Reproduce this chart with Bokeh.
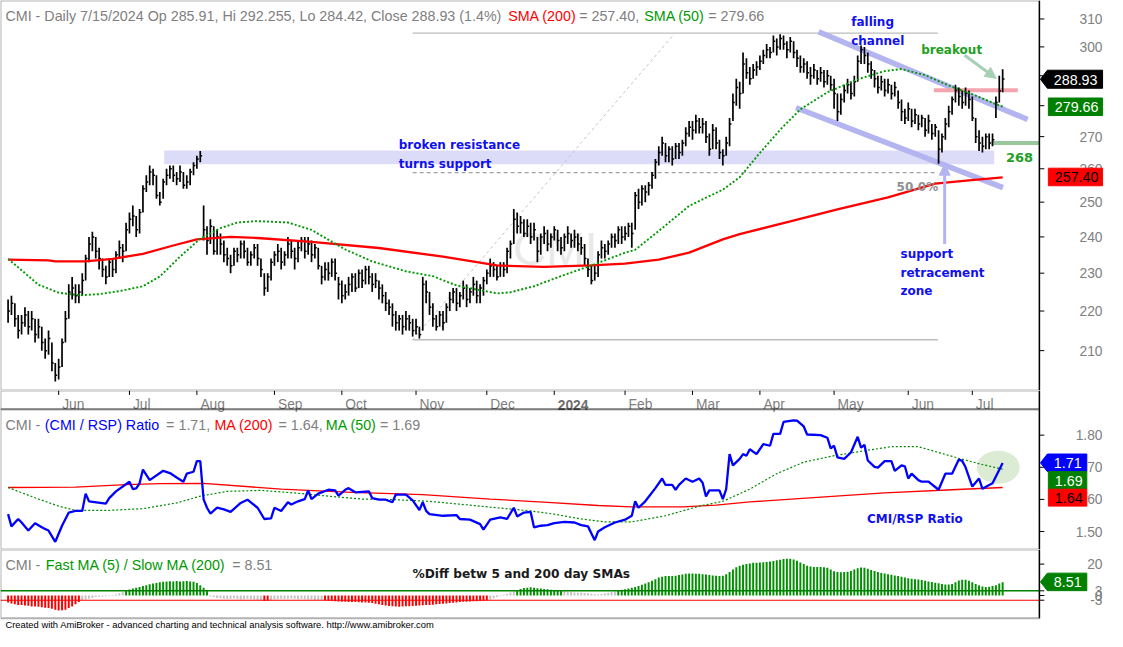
import pandas as pd
from bokeh.plotting import figure
from bokeh.layouts import column
from bokeh.models import Range1d, Label, Arrow, NormalHead, PolyAnnotation, BoxAnnotation
from bokeh.embed import file_html
from bokeh.resources import INLINE
from bokeh.core.properties import value

# ---------------------------------------------------------------- data
holidays = ["2023-05-29", "2023-06-19", "2023-07-04", "2023-09-04", "2023-11-23",
            "2023-12-25", "2024-01-01", "2024-01-15", "2024-02-19", "2024-03-29",
            "2024-05-27", "2024-06-19", "2024-07-04"]
dates = pd.bdate_range("2023-05-10", "2024-07-15", freq="C", holidays=holidays)

close = [220, 222, 218, 215, 217, 219, 216, 218, 214, 216,
         212, 210, 213, 207, 204, 206, 212, 218, 225, 226,
         224, 225, 228, 234, 238, 240, 236, 234, 231, 229,
         233, 231, 235, 237, 236, 242, 245, 246, 242, 247,
         254, 256, 259, 258, 252, 250, 256, 258, 260, 258,
         257, 259, 255, 256, 259, 261, 263, 264, 242, 239,
         243, 236, 240, 238, 235, 234, 232, 236, 235, 238,
         236, 233, 235, 237, 234, 231, 226, 229, 233, 235,
         236, 233, 235, 238, 236, 234, 237, 239, 236, 238,
         235, 237, 232, 229, 231, 230, 233, 230, 227, 224,
         225, 227, 229, 226, 230, 228, 231, 229, 227, 228,
         226, 224, 222, 221, 219, 217, 218, 216, 218, 217,
         215, 216, 214, 227, 225, 221, 218, 216, 219, 217,
         221, 223, 225, 222, 224, 226, 223, 225, 227, 224,
         226, 228, 230, 232, 231, 229, 232, 231, 236, 238,
         245, 243, 244, 241, 243, 240, 242, 236, 240, 241,
         238, 240, 242, 239, 237, 240, 241, 239, 240, 238,
         237, 234, 231, 228, 230, 235, 237, 236, 238, 240,
         239, 242, 240, 241, 243, 241, 252, 250, 254, 253,
         255, 258, 262, 265, 268, 264, 266, 263, 267, 265,
         268, 271, 273, 272, 275, 273, 274, 270, 266, 272,
         268, 265, 264, 268, 274, 281, 286, 284, 294, 291,
         289, 292, 293, 295, 297, 299, 298, 302, 300, 303,
         301, 299, 302, 298, 296, 293, 294, 291, 290, 292,
         289, 291, 288, 290, 287, 284, 278, 282, 285, 287,
         284, 288, 295, 299, 297, 294, 292, 289, 286, 288,
         285, 287, 284, 286, 281, 278, 276, 279, 275, 277,
         274, 276, 272, 275, 271, 273, 266, 270, 274, 278,
         282, 285, 283, 281, 284, 282, 276, 270, 268, 267,
         270, 268, 269, 281, 284.9, 288.93]

high = [223, 224, 222, 219, 219, 221, 220, 220, 218, 218,
        216, 213, 215, 212, 207, 208, 213, 220, 227, 229,
        227, 227, 230, 235, 240, 241.5, 240, 237, 234, 232,
        234, 234, 236, 239, 238, 244, 247, 249, 246, 248,
        255, 258, 261, 260, 258, 253, 257, 260, 261, 261,
        259, 261, 259, 258, 260, 262, 264, 265.5, 249, 243,
        245, 243, 242, 241, 239, 237, 235, 237, 237, 239,
        239, 237, 236, 238, 238, 234, 230, 230, 234, 236,
        238, 237, 236, 240, 239, 237, 239, 240, 240, 240,
        239, 238, 237, 232, 233, 233, 234, 234, 229, 228,
        227, 229, 230, 230, 231, 231, 232, 232, 230, 230,
        228, 227, 225, 223, 222, 220, 219, 219, 220, 219,
        218, 218, 216, 229, 228, 225, 222, 219, 220, 220,
        222, 225, 226, 226, 225, 228, 227, 226, 229, 228,
        227, 229, 231, 234, 233, 232, 233, 233, 237, 239,
        248, 247, 246, 245, 245, 244, 244, 240, 241, 243,
        242, 241, 243, 242, 240, 241, 243, 241, 242, 241,
        240, 238, 234, 232, 232, 236, 239, 238, 239, 241,
        241, 243, 243, 243, 244, 244, 253, 254, 255, 255,
        256, 259, 263, 267, 270, 268, 267, 267, 268, 268,
        269, 273, 275, 275, 277, 276, 276, 275, 271, 274,
        273, 269, 266, 270, 276, 284, 289, 288, 298, 296,
        293, 294, 295, 297, 299, 301, 300, 304, 303, 304.5,
        304, 302, 303.5, 302, 299, 297, 296, 295, 293, 294,
        292, 293, 292, 292, 290, 289, 284, 284, 287, 289,
        288, 290, 297, 300.5, 300, 298, 295, 292, 290, 290,
        289, 289, 287, 288, 285, 282, 279, 281, 279, 279,
        277, 277, 276, 277, 274, 274, 272, 271, 276, 280,
        283, 287, 286, 285, 286, 285, 283, 276, 272, 270,
        271, 271, 271, 283, 290, 292.26]

low = [217, 219, 216, 213, 214, 216, 214, 215, 212, 213,
       210, 208, 209, 205, 202.5, 203, 206, 212, 218, 223,
       222, 222, 224, 228, 233, 236, 234, 231, 229, 227,
       229, 229, 230, 234, 233, 236, 241, 243, 240, 241,
       247, 253, 255, 255, 251, 249, 251, 255, 257, 256,
       255, 256, 254, 254, 255, 258, 260, 262, 239, 235,
       238, 235, 235, 235, 233, 232, 230, 232, 233, 234,
       234, 232, 232, 234, 232, 229, 224, 225, 228, 232,
       233, 231, 232, 234, 234, 231, 233, 236, 234, 235,
       233, 234, 231, 227, 228, 228, 229, 228, 223, 222,
       223, 224, 225, 225, 226, 226, 227, 227, 225, 226,
       223, 222, 220, 219, 216, 215, 215, 214, 215, 215,
       213.5, 214, 213, 215, 222, 219, 216, 215, 216, 215,
       217, 220, 222, 220, 221, 223, 221, 222, 224, 222,
       222, 224, 227, 229, 229, 228, 229, 229, 230, 234,
       238, 241, 241, 240, 240, 238, 239, 233, 235, 238,
       236, 237, 239, 236, 235, 236, 238, 237, 237, 236,
       235, 232, 229, 227, 228, 229, 234, 234, 235, 237,
       237, 238, 238, 239, 240, 237, 242, 248, 249, 250,
       252, 254, 257, 261, 264, 262, 262, 261, 263, 263,
       264, 267, 270, 269, 271, 271, 271, 268, 264, 266,
       266, 263, 261, 264, 267, 275, 280, 279, 284, 289,
       287, 289, 290, 292, 294, 296, 296, 298, 297, 299,
       299, 296, 298, 296, 293, 291, 291, 289, 287, 289,
       287, 288, 286, 287, 285, 279, 275, 277, 281, 284,
       282, 283, 288, 294, 294, 291, 289, 286, 284, 285,
       283, 284, 282, 283, 279, 275, 274, 275, 273, 274,
       272, 273, 270, 271, 269, 270, 261.5, 265, 269, 273,
       277, 281, 280, 279, 280, 279, 275, 268, 265.5, 265,
       266, 266, 267, 276, 281, 284.42]

# moving averages of the price panel (bar number, value)
sma200_bar = [0, 12, 14, 23, 31, 40, 49, 56, 66, 74, 90, 110, 129, 145, 159, 173, 183,
              193, 202, 212, 217, 232, 246, 261, 275, 285, 295]
sma200_val = [233.7, 233.5, 233.2, 233.2, 233.9, 235.3, 237.6, 239.3, 240.0, 239.7, 238.6,
              236.9, 234.5, 232.1, 231.7, 232.1, 232.6, 233.7, 235.6, 239.3, 240.8, 244.4,
              247.9, 251.4, 255.5, 256.5, 257.4]
sma50_bar = [0, 4, 9, 15, 21, 27, 33, 40, 45, 51, 57, 63, 68, 74, 83, 90, 100, 108, 118,
             126, 133, 145, 149, 156, 164, 173, 183, 186, 193, 202, 212, 217, 223, 229, 235,
             243, 252, 260, 265, 272, 279, 287, 293, 295]
sma50_val = [233.9, 230.8, 226.9, 224.8, 224.1, 224.4, 225.2, 226.5, 229.1, 234.5, 239.5,
             242.5, 244.1, 244.5, 244.1, 242.0, 236.5, 233.2, 230.5, 229.2, 226.7, 224.6,
             224.9, 226.5, 229.2, 232.1, 235.6, 236.4, 241.7, 248.9, 253.7, 257.4, 264.9,
             272.2, 278.8, 284.4, 288.8, 291.6, 292.3, 290.2, 286.7, 283.3, 280.5, 279.66]

# CMI / RSP ratio panel
ratio_bar = [0, 1, 3, 4, 6, 8, 10, 11, 12, 14, 16, 18, 20, 22, 23, 24, 29, 30, 32, 36, 37,
             38, 39, 40, 42, 46, 48, 50, 52, 53, 55, 56, 57, 58, 59, 60, 62, 64, 66, 69, 71,
             74, 76, 78, 79, 81, 83, 84, 86, 88, 89, 90, 92, 95, 97, 98, 100, 101, 103, 107,
             108, 110, 112, 114, 115, 118, 120, 122, 123, 124, 125, 129, 133, 134, 137, 140,
             141, 143, 146, 148, 150, 151, 153, 155, 156, 158, 160, 162, 165, 168, 170, 172,
             174, 175, 177, 180, 183, 185, 186, 187, 189, 192, 194, 195, 197, 198, 199, 201,
             203, 205, 206, 207, 208, 211, 212, 213, 214, 215, 217, 218, 219, 220, 222, 224,
             226, 227, 229, 230, 233, 234, 236, 237, 241, 243, 244, 245, 246, 248, 250, 252,
             253, 254, 255, 257, 258, 260, 262, 263, 265, 266, 267, 268, 270, 271, 273, 276,
             278, 280, 282, 283, 284, 286, 288, 289, 291, 292, 295]
ratio_val = [1.554, 1.516, 1.539, 1.528, 1.503, 1.526, 1.513, 1.508, 1.503, 1.468, 1.518,
             1.559, 1.564, 1.564, 1.618, 1.594, 1.587, 1.604, 1.625, 1.655, 1.632, 1.634,
             1.650, 1.693, 1.660, 1.689, 1.682, 1.668, 1.655, 1.680, 1.686, 1.719, 1.719,
             1.600, 1.574, 1.556, 1.574, 1.569, 1.561, 1.589, 1.599, 1.574, 1.539, 1.541,
             1.574, 1.564, 1.591, 1.584, 1.594, 1.601, 1.628, 1.601, 1.618, 1.630, 1.628,
             1.612, 1.630, 1.635, 1.622, 1.625, 1.604, 1.599, 1.599, 1.591, 1.615, 1.615,
             1.597, 1.567, 1.591, 1.564, 1.554, 1.549, 1.551, 1.539, 1.537, 1.523, 1.506,
             1.537, 1.544, 1.539, 1.574, 1.547, 1.559, 1.561, 1.513, 1.518, 1.520, 1.526,
             1.530, 1.528, 1.520, 1.516, 1.473, 1.500, 1.513, 1.528, 1.537, 1.549, 1.594,
             1.574, 1.594, 1.635, 1.665, 1.645, 1.645, 1.630, 1.645, 1.665, 1.655, 1.665,
             1.652, 1.609, 1.628, 1.628, 1.601, 1.632, 1.741, 1.706, 1.726, 1.741, 1.736,
             1.756, 1.741, 1.772, 1.767, 1.804, 1.804, 1.841, 1.846, 1.845, 1.827, 1.802,
             1.800, 1.792, 1.759, 1.767, 1.731, 1.726, 1.746, 1.795, 1.761, 1.770, 1.721,
             1.701, 1.699, 1.719, 1.719, 1.689, 1.706, 1.703, 1.665, 1.680, 1.660, 1.655,
             1.655, 1.630, 1.680, 1.680, 1.724, 1.720, 1.700, 1.640, 1.665, 1.633, 1.645,
             1.650, 1.713]
rma200_bar = [0, 20, 35, 45, 58, 81, 102, 123, 143, 160, 175, 185, 200, 210, 220, 240, 260, 280, 295]
rma200_val = [1.637, 1.638, 1.646, 1.649, 1.650, 1.632, 1.622, 1.615, 1.601, 1.591, 1.581,
              1.577, 1.577, 1.582, 1.592, 1.606, 1.620, 1.630, 1.637]
rma50_bar = [0, 8, 15, 20, 30, 40, 50, 57, 65, 75, 85, 95, 105, 115, 125, 135, 145, 155, 162,
             170, 177, 185, 195, 205, 212, 220, 228, 236, 245, 255, 262, 270, 278, 282, 288, 295]
rma50_val = [1.637, 1.605, 1.579, 1.566, 1.566, 1.571, 1.589, 1.610, 1.625, 1.628, 1.620,
             1.610, 1.601, 1.599, 1.594, 1.584, 1.574, 1.564, 1.554, 1.539, 1.530, 1.530,
             1.549, 1.579, 1.594, 1.632, 1.680, 1.716, 1.736, 1.753, 1.764, 1.764, 1.740,
             1.728, 1.711, 1.694]

# %diff between 5- and 200-day SMAs, one value per bar
pct_diff = [-4.4, -5, -5.5, -6, -6, -6.3, -6.5, -7, -7, -7.2, -7.5, -7.8, -8, -8.5, -9, -9.6,
            -9.3, -9, -8, -7, -5.5, -4.2,
            -2.8, -2.5, -2, -1.5, -1, -0.8, -0.6, -0.5, -0.3, 0.3, 0.8, 1.5, 2.2,
            3.2, 3.8, 4.4, 5, 5.5, 6, 6.6, 7.2, 7.6, 8, 8.4, 8.8, 9, 9.1, 9, 9.2, 9, 9.1, 9.3,
            9, 8.8, 8, 6.5, 5, 3.4,
            -0.5, -1, -1.5, -1.8, -2, -2.2, -2, -1.8, -2.2, -2.5, -2.4, -2, -2.3, -2.6, -2.8, -2.9,
            -3.5, -3.3,
            -2.8, -2.5, -2.3, -2, -2.2, -2, -1.9, -2.1, -2.3, -2, -2.4, -2.6, -2.5, -2.8, -2.9, -2.9,
            -3.2, -3.4, -3.5, -3.6, -3.8, -3.9, -4, -4.1, -4.2, -4.2,
            -4.3, -4.4, -4.5, -4.6, -4.8, -5.2, -5.6, -6, -6.3, -6.6,
            -6.9, -7, -7.1, -7, -6.8, -6.8, -6.6, -6.5, -6.4, -6.2,
            -6, -6, -5.8, -5.6, -5.4, -5.2, -5, -4.8, -4.6, -4.4,
            -4.2, -4, -3.9, -3.8, -3.7, -3.6, -3.5, -3.4, -3.2,
            -2.5, -1.8, -1, -0.3, 0.5, 1.2, 2, 2.6,
            3.5, 4.2, 4.8, 5, 5.2, 5, 4.6, 4.4, 4.2, 4,
            3.6, 3.4, 3.2, 3.1, 2.8, 2.5, 2.2, 2, 1.8, 1.7, 1.6, 1.4, 1.2, 0.8, 0.6, 0.9, 1.4,
            1.8, 2.2, 2.6,
            3.2, 3.6, 4, 4.5, 5, 5.4, 6, 6.8, 7.6, 8.4, 9.4, 10.4, 11.4,
            12, 12.4, 12.5, 12.4, 12.6, 13, 13.4, 13.8, 14, 14, 13.8, 13.8, 13.6, 13.4, 13,
            12.8, 12.6, 12.4, 12.6, 13.6,
            15, 16.5, 18, 19, 19.6,
            20, 20.4, 20.8, 20.8, 21, 21.2, 21.4, 21.6, 22, 22.4,
            22.8, 23.2, 23.4, 23.4, 23, 22.2, 21,
            20, 19, 18.4, 18.2, 18.2, 18.2, 18, 17.6, 16.5,
            15.4, 15, 14.8, 15, 15.2, 15.6,
            16.6, 17.4, 17.8, 17.6, 17,
            16.2, 15.6, 15, 14.4, 14, 13.6, 13.2, 12.8, 12.4, 12,
            11.4, 11, 10.6, 10.4, 10.2, 9.8, 9.4, 9, 8.6, 8.2, 7.8,
            7.4, 7, 7, 7.4,
            8.5, 9.6, 10, 10, 9.4,
            8.4, 7.4, 6.6, 5.8, 5.4,
            5.6, 6, 6.6, 7.6, 8.51]

price_ticks = [210, 220, 230, 240, 250, 260, 270, 280, 290, 300, 310]
ratio_ticks = [1.5, 1.6, 1.7, 1.8]
diff_ticks = [-3, 0, 3, 20]

# annotation anchors (bar number, price)
zone_bars, zone_prices = (46.3, 292.5), (261.4, 265.6)
fib_bars, fib_prices = (120, 275.8), (212.7, 304.9)
fib_diag_end = 197.8
chan_up_bars, chan_up_prices = (240.4, 302.4), (305.4, 275.5)
chan_dn_bars, chan_dn_prices = (233.7, 295.1), (279.3, 254.3)
pink_bars, pink_price = (274.6, 299.5), 285.1
sup_start, sup_price = 291.6, 268
brk_arrow = (283.7, 297.1, 293.1, 289.1)
sup_arrow = (277.8, 238.0, 277.8, 261.4)

# ---------------------------------------------------------------- layout
W = 1107
SX = W / 1123.0                       # reference px -> page px
XS, XEND = -2.25, 326.1               # bar-number range of the full width
AXIS_X = 305.9                        # bar number where the value axis stands
TICK_LEN = 1.46
LBL_DX = (1118 - 1054) * SX
H1, H2, H3 = 390, 159, 82
TOP = (400.0, H1 / 400.0)             # (reference bottom, vertical scale) of each figure
MID = (562.7, H2 / 162.7)
BOT = (647.0, H3 / 84.3)

price_lim = (200.4, 316.8)
ratio_lim = (1.444, 1.939)
diff_lim = (-22.9, 29.29)


def ry(y_ref):                         # reference px -> ratio units (middle figure)
    return 1.80 + (445.7 - y_ref) / 329.0


def dy(y_ref):                         # reference px -> %diff units (bottom figure)
    return (610.0 - y_ref) / 1.615


GRAY, BLUE, RED = "#808080", "#0000ff", "#ff0000"
AX_FONT, AF = "Liberation Sans", "DejaVu Sans"
TSZ, ASZ = "14.3px", "12px"

xr = Range1d(XS, XEND)


def panel_fig(h, yr, y_type="linear"):
    p = figure(width=W, height=h, x_range=xr, y_range=yr, y_axis_type=y_type, title=None,
               toolbar_location=None, output_backend="svg",
               min_border_left=0, min_border_right=0, min_border_top=0,
               min_border_bottom=0, x_axis_location=None, y_axis_location=None)
    p.grid.visible = False
    p.outline_line_color = None
    p.background_fill_color = "white"
    p.border_fill_color = "white"
    return p


def border(p, bottom, top, width=2):
    p.add_layout(BoxAnnotation(left=XS, right=AXIS_X, bottom=bottom, top=top,
                               fill_color=None, line_color="black", line_width=width))


def value_axis(p, lo, hi, ticks, labels):
    n = len(ticks)
    p.segment(x0=[AXIS_X], x1=[AXIS_X], y0=[lo], y1=[hi], line_color="black", line_width=1.3)
    p.segment(x0=[AXIS_X] * n, x1=[AXIS_X + TICK_LEN] * n, y0=ticks, y1=ticks,
              line_color="black", line_width=1)
    p.text(x=[AXIS_X] * n, y=ticks, text=labels, x_offset=LBL_DX, text_align="right",
           text_baseline="middle", text_color=GRAY, text_font=value(AX_FONT),
           text_font_size="13.8px")


def put(p, pan, x, y, text, color, size, font=AX_FONT, style="normal",
        baseline="alphabetic", level="annotation"):
    p.add_layout(Label(x=x * SX, y=(pan[0] - y) * pan[1], x_units="screen",
                       y_units="screen", text=text, text_color=color, text_font=font,
                       text_font_size=size, text_font_style=style, text_align="left",
                       text_baseline=baseline, level=level))


def badge(p, pan, left, right, top, bot, fill, text, tcolor, tip=None):
    if tip is not None:
        xs = [tip, left, right, right, left]
        ys = [(top + bot) / 2, top, top, bot, bot]
    else:
        xs = [left, right, right, left]
        ys = [top, top, bot, bot]
    p.add_layout(PolyAnnotation(xs=[x * SX for x in xs],
                                ys=[(pan[0] - y) * pan[1] for y in ys],
                                xs_units="screen", ys_units="screen", fill_color=fill,
                                fill_alpha=1, line_color=fill, line_alpha=1))
    put(p, pan, left + 6.5, (top + bot) / 2 + 0.5, text, tcolor, TSZ, baseline="middle")


# ---------------------------------------------------------------- price panel
bars = list(range(len(close)))
p1 = panel_fig(H1, Range1d(*price_lim), "log")

put(p1, TOP, 520, 255, "CMI", "#e9e9e9", "46px", level="underlay")
p1.quad(left=[zone_bars[0]], right=[zone_bars[1]], bottom=[zone_prices[0]],
        top=[zone_prices[1]], fill_color="#dcdcf8", line_color=None)
p1.segment(x0=[fib_bars[0]] * 2, x1=[fib_bars[1]] * 2, y0=list(fib_prices),
           y1=list(fib_prices), line_color="#bdbdbd", line_width=1.4)
fib_mid = (fib_prices[0] + fib_prices[1]) / 2
p1.segment(x0=[fib_bars[0]], x1=[fib_bars[1]], y0=[fib_mid], y1=[fib_mid],
           line_color="#8c8c8c", line_width=1, line_dash="4 3")
p1.segment(x0=[fib_bars[0]], x1=[fib_diag_end], y0=[fib_prices[0]], y1=[fib_prices[1]],
           line_color="#c4c4c4", line_width=1, line_dash="3 3")
p1.line(list(chan_up_bars), list(chan_up_prices), line_color="#b4b4f0", line_width=5.5)
p1.line(list(chan_dn_bars), list(chan_dn_prices), line_color="#b4b4f0", line_width=5.5)
p1.line(list(pink_bars), [pink_price] * 2, line_color="#f4a4ac", line_width=4)
p1.line([sup_start, AXIS_X], [sup_price] * 2, line_color="#98c89c", line_width=4)

p1.segment(x0=bars, x1=bars, y0=low, y1=high, line_color="black", line_width=1.7)
p1.segment(x0=bars, x1=[b + 0.55 for b in bars], y0=close, y1=close,
           line_color="black", line_width=1.5)
p1.line(sma200_bar, sma200_val, line_color=RED, line_width=2.3)
p1.line(sma50_bar, sma50_val, line_color="#009900", line_width=1.9, line_dash="2 2")

p1.add_layout(Arrow(end=NormalHead(size=11, fill_color="#a8d0b4", line_color="#a8d0b4"),
                    x_start=brk_arrow[0], y_start=brk_arrow[1], x_end=brk_arrow[2],
                    y_end=brk_arrow[3], line_color="#a8d0b4", line_width=3))
p1.add_layout(Arrow(end=NormalHead(size=11, fill_color="#b4b4f0", line_color="#b4b4f0"),
                    x_start=sup_arrow[0], y_start=sup_arrow[1], x_end=sup_arrow[2],
                    y_end=sup_arrow[3], line_color="#b4b4f0", line_width=3))

value_axis(p1, price_lim[0], price_lim[1], price_ticks, [str(t) for t in price_ticks])
border(p1, price_lim[0], price_lim[1])

put(p1, TOP, 5, 16, "CMI - Daily 7/15/2024 Op 285.91, Hi 292.255, Lo 284.42, Close 288.93 (1.4%)", GRAY, TSZ)
put(p1, TOP, 515, 16, "SMA (200)", RED, TSZ)
put(p1, TOP, 587, 16, "= 257.40,", GRAY, TSZ)
put(p1, TOP, 653, 16, "SMA (50)", "#009900", TSZ)
put(p1, TOP, 718, 16, "= 279.66", GRAY, TSZ)

for txt, x, y in [("falling", 863, 22.5), ("channel", 863, 41.5),
                  ("broken resistance", 404, 148.5), ("turns support", 404, 167.5),
                  ("support", 913, 260), ("retracement", 913, 279), ("zone", 913, 297.5)]:
    put(p1, TOP, x, y, txt, "#1010f0", ASZ, font=AF, style="bold")
put(p1, TOP, 934, 50.5, "breakout", "#22a022", ASZ, font=AF, style="bold")
put(p1, TOP, 1020, 161.5, "268", "#22a022", "13px", font=AF, style="bold")
put(p1, TOP, 909, 191.5, "50.0%", "#909090", ASZ, font=AF, style="bold")

badge(p1, TOP, 1062, 1118, 71.5, 90, "#000000", "288.93", "white", tip=1055)
badge(p1, TOP, 1063, 1118, 100, 118, "#008000", "279.66", "white")
badge(p1, TOP, 1063, 1118, 172, 190, "#ff0000", "257.40", "black")

# ---------------------------------------------------------------- date strip + ratio panel
p2 = panel_fig(H2, Range1d(*ratio_lim))
month_bars = [i for i in range(1, len(dates)) if dates[i].month != dates[i - 1].month]
month_txt = [dates[i].strftime("%b") for i in month_bars]
nm = len(month_bars)
p2.segment(x0=month_bars, x1=month_bars, y0=[ry(400)] * nm, y1=[ry(404.5)] * nm,
           line_color="black", line_width=1)
plain = [(b, t) for b, t in zip(month_bars, month_txt) if t != "Jan"]
years = [(b, str(dates[b].year)) for b, t in zip(month_bars, month_txt) if t == "Jan"]
p2.text(x=[b for b, _ in plain], y=[ry(414.5)] * len(plain), text=[t for _, t in plain],
        text_font=value(AX_FONT), text_font_size="13.8px", text_color=GRAY,
        x_offset=3.5, text_align="left", text_baseline="alphabetic")
p2.text(x=[b for b, _ in years], y=[ry(414.5)] * len(years), text=[t for _, t in years],
        text_font=value(AX_FONT), text_font_size="13.8px", text_color="#6e6e6e",
        text_font_style="bold", x_offset=3.5, text_align="left", text_baseline="alphabetic")

p2.ellipse(x=[293.7], y=[1.70], width=43, height=33, width_units="screen",
           height_units="screen", fill_color="#d6e8cc", fill_alpha=0.85, line_color=None)
p2.line(rma200_bar, rma200_val, line_color=RED, line_width=1.3)
p2.line(rma50_bar, rma50_val, line_color="#008800", line_width=1.2, line_dash="2 2")
p2.line(ratio_bar, ratio_val, line_color=BLUE, line_width=2.3)

value_axis(p2, ratio_lim[0], ratio_lim[1], ratio_ticks, ["%.2f" % t for t in ratio_ticks])
border(p2, ry(419.3), ratio_lim[1])
border(p2, ratio_lim[0], ry(419.3))

put(p2, MID, 5, 435, "CMI - ", GRAY, TSZ)
put(p2, MID, 45, 435, "(CMI / RSP) Ratio", BLUE, TSZ)
put(p2, MID, 168, 435, "= 1.71,", GRAY, TSZ)
put(p2, MID, 217, 435, "MA (200)", RED, TSZ)
put(p2, MID, 282, 435, "= 1.64,", GRAY, TSZ)
put(p2, MID, 330, 435, "MA (50)", "#009900", TSZ)
put(p2, MID, 385, 435, "= 1.69", GRAY, TSZ)
put(p2, MID, 879, 532, "CMI/RSP Ratio", "#1010f0", ASZ, font=AF, style="bold")

badge(p2, MID, 1062, 1102, 465, 483, "#0000ff", "1.71", "white", tip=1055)
badge(p2, MID, 1063, 1102, 483, 501, "#008000", "1.69", "white")
badge(p2, MID, 1063, 1102, 501, 518.3, "#ff0000", "1.64", "black")

# ---------------------------------------------------------------- %diff panel + footer
p3 = panel_fig(H3, Range1d(*diff_lim))
hbars = list(range(len(pct_diff)))
hcol = ["#009000" if v > 3 else ("#ff0000" if v < -3 else "#c4c4c4") for v in pct_diff]
p3.vbar(x=hbars, top=pct_diff, bottom=0, width=0.58, fill_color=hcol, line_color=None)
p3.segment(x0=[XS, XS], x1=[AXIS_X, AXIS_X], y0=[3, -3], y1=[3, -3],
           line_color=["#008000", "#ff0000"], line_width=[1.5, 1.2])

value_axis(p3, dy(633.3), diff_lim[1], diff_ticks, [str(t) for t in diff_ticks])
border(p3, dy(633.3), diff_lim[1])

put(p3, BOT, 5, 579, "CMI - ", GRAY, TSZ)
put(p3, BOT, 46, 579, "Fast MA (5) / Slow MA (200)", "#009900", TSZ)
put(p3, BOT, 235, 579, "= 8.51", GRAY, TSZ)
put(p3, BOT, 418, 588, "%Diff betw 5 and 200 day SMAs", "#1a1a1a", "12.2px", font=AF, style="bold")
badge(p3, BOT, 1062, 1102, 587, 605, "#008000", "8.51", "white", tip=1055)
put(p3, BOT, 5, 640, "Created with AmiBroker - advanced charting and technical analysis "
    "software. http://www.amibroker.com", "black", "9.4px", baseline="middle")

layout = column(p1, p2, p3, spacing=0)
open("out.html", "w").write(file_html(layout, INLINE))
